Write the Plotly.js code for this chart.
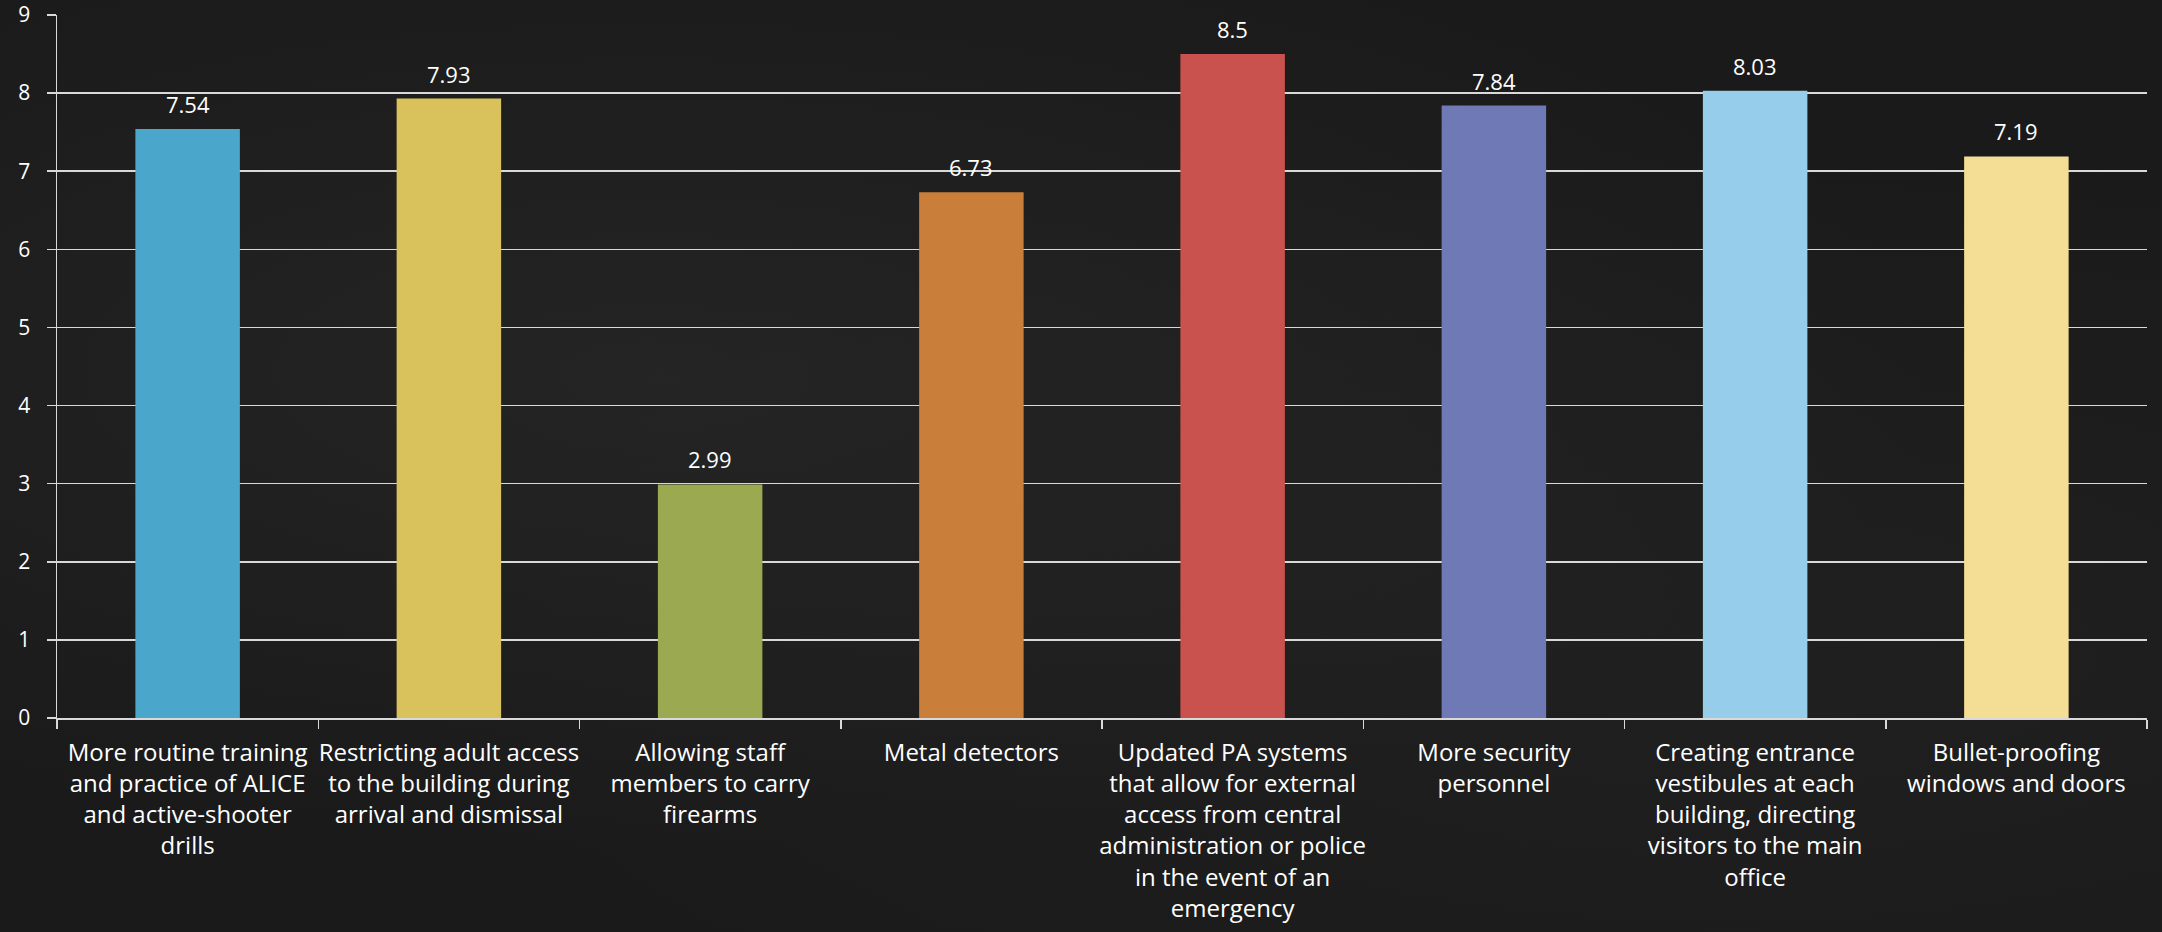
<!DOCTYPE html>
<html>
<head>
<meta charset="utf-8">
<script src="https://cdn.plot.ly/plotly-3.0.1.min.js"></script>
<style>
html,body{margin:0;padding:0;background:#1b1b1b;}
#chart{width:2162px;height:932px;
background:
radial-gradient(ellipse at 30% 40%, rgba(55,55,55,0.35), rgba(0,0,0,0) 60%),
radial-gradient(ellipse at 80% 70%, rgba(45,45,45,0.3), rgba(0,0,0,0) 55%),
#1a1a1a;}
</style>
</head>
<body>
<div id="chart"></div>
<script>
const categories = [
  "More routine training<br>and practice of ALICE<br>and active-shooter<br>drills",
  "Restricting adult access<br>to the building during<br>arrival and dismissal",
  "Allowing staff<br>members to carry<br>firearms",
  "Metal detectors",
  "Updated PA systems<br>that allow for external<br>access from central<br>administration or police<br>in the event of an<br>emergency",
  "More security<br>personnel",
  "Creating entrance<br>vestibules at each<br>building, directing<br>visitors to the main<br>office",
  "Bullet-proofing<br>windows and doors"
];
const values = [7.54, 7.93, 2.99, 6.73, 8.5, 7.84, 8.03, 7.19];
const barColors = ["#4BA6CC", "#D9C15C", "#9BAA50", "#C97F3A", "#C9524F", "#6E79B5", "#96CDEB", "#F4DE96"];
const yTicks = [0, 1, 2, 3, 4, 5, 6, 7, 8, 9];

const FONT = "'Open Sans', Lato, sans-serif";

const trace = {
  type: "bar",
  x: categories,
  y: values,
  marker: {color: barColors},
  hoverinfo: "x+y"
};

const valueLabels = categories.map((c, i) => ({
  x: c,
  y: values[i],
  xref: "x",
  yref: "y",
  text: String(values[i]),
  showarrow: false,
  yanchor: "bottom",
  yshift: 8,
  font: {family: FONT, size: 22, color: "#ffffff"}
}));

const layout = {
  width: 2162, height: 932,
  margin: {l: 57, r: 15, t: 15, b: 214},
  paper_bgcolor: "rgba(0,0,0,0)",
  plot_bgcolor: "rgba(0,0,0,0)",
  bargap: 0.6,
  showlegend: false,
  font: {family: FONT, color: "#ffffff"},
  annotations: valueLabels,
  xaxis: {
    type: "category",
    tickson: "boundaries",
    ticks: "outside",
    ticklen: 9,
    tickwidth: 1.5,
    tickcolor: "#d9d9d9",
    showline: true,
    linecolor: "#d9d9d9",
    linewidth: 2,
    showgrid: false,
    tickangle: 0,
    tickfont: {family: FONT, size: 24, color: "#ffffff"},
    ticklabelstandoff: 12,
    automargin: false
  },
  yaxis: {
    range: [0, 9],
    tickvals: yTicks,
    ticktext: yTicks.map(String),
    ticks: "outside",
    ticklen: 9,
    tickwidth: 1.5,
    tickcolor: "#d9d9d9",
    showline: true,
    linecolor: "#d9d9d9",
    linewidth: 1.5,
    showgrid: true,
    gridcolor: "#d9d9d9",
    gridwidth: 1.5,
    zeroline: false,
    tickfont: {family: FONT, size: 21, color: "#ffffff"},
    ticklabelstandoff: 12,
    automargin: false
  }
};

Plotly.newPlot("chart", [trace], layout, {displayModeBar: false, staticPlot: true});
</script>
</body>
</html>
